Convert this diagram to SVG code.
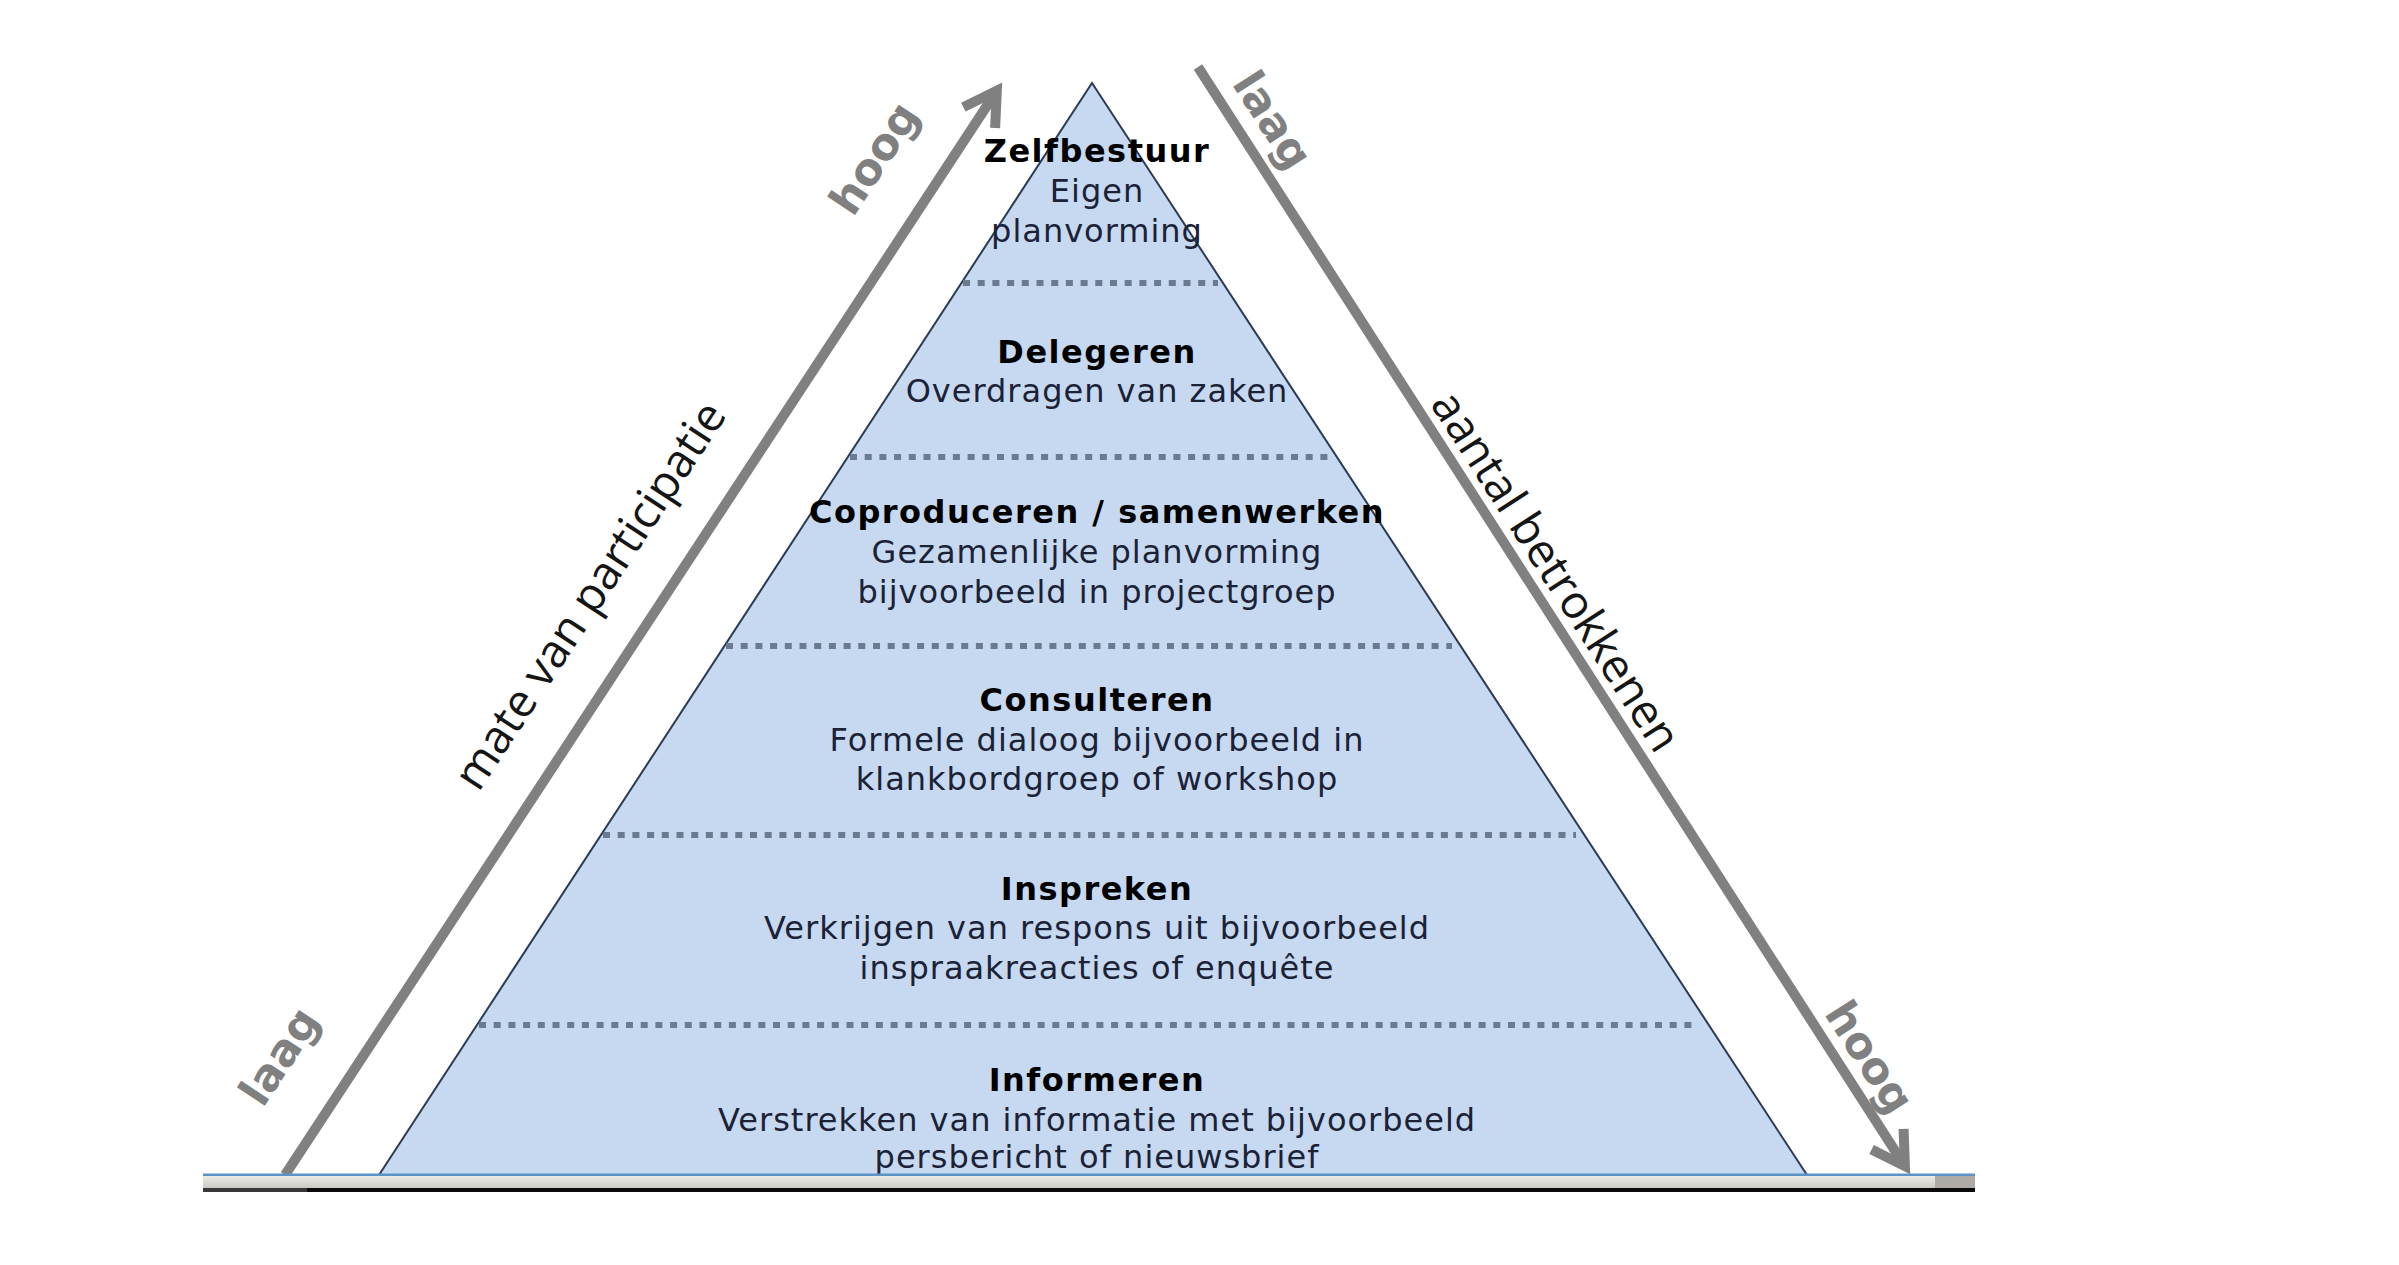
<svg xmlns="http://www.w3.org/2000/svg" width="2399" height="1265" viewBox="0 0 2399 1265">
  <style>
    .t { font-family: "DejaVu Sans", Verdana, sans-serif; font-size: 32px; fill: #1b2236; text-anchor: middle; letter-spacing: 1px; }
    .b { font-family: "DejaVu Sans", Verdana, sans-serif; font-size: 32px; font-weight: bold; fill: #000; text-anchor: middle; letter-spacing: 1.5px; }
    .lbl { font-family: "Open Sans", "DejaVu Sans", sans-serif; font-size: 46px; fill: #151515; text-anchor: middle; dominant-baseline: central; }
    .hl { font-family: "DejaVu Sans", Verdana, sans-serif; font-size: 44px; font-weight: bold; fill: #808080; text-anchor: middle; dominant-baseline: central; }
    .dot { stroke: #6c7a90; stroke-width: 6; stroke-dasharray: 7 7.7; fill: none; }
    .arrow { stroke: #808080; stroke-width: 10; fill: none; marker-end: url(#chev); }
  </style>
  <defs>
    <marker id="chev" markerUnits="userSpaceOnUse" orient="auto" refX="0" refY="0" markerWidth="80" markerHeight="80" viewBox="-50 -40 80 80" overflow="visible">
      <path d="M-32,-19 L0,0 L-32,19" fill="none" stroke="#808080" stroke-width="10" stroke-linejoin="miter" stroke-miterlimit="10"/>
    </marker>
    <linearGradient id="band" x1="0" y1="0" x2="0" y2="1">
      <stop offset="0" stop-color="#ecebe6"/>
      <stop offset="1" stop-color="#cdcac5"/>
    </linearGradient>
  </defs>
  <rect width="2399" height="1265" fill="#ffffff"/>

  <g id="pyramid">
    <polygon points="1092,83 379,1175 1807,1175" fill="#c6d9f1" stroke="#2c3b55" stroke-width="2"/>
    <line class="dot" x1="963" y1="283" x2="1218" y2="283"/>
    <line class="dot" x1="850" y1="457" x2="1330" y2="457"/>
    <line class="dot" x1="726" y1="646" x2="1452" y2="646"/>
    <line class="dot" x1="603" y1="835" x2="1576" y2="835"/>
    <line class="dot" x1="479" y1="1025" x2="1696" y2="1025"/>
  </g>

  <g id="zelfbestuur">
    <text class="b" x="1097" y="162">Zelfbestuur</text>
    <text class="t" x="1097" y="202">Eigen</text>
    <text class="t" x="1097" y="242">planvorming</text>
  </g>
  <g id="delegeren">
    <text class="b" x="1097" y="363">Delegeren</text>
    <text class="t" x="1097" y="402">Overdragen van zaken</text>
  </g>
  <g id="coproduceren">
    <text class="b" x="1097" y="523">Coproduceren / samenwerken</text>
    <text class="t" x="1097" y="563">Gezamenlijke planvorming</text>
    <text class="t" x="1097" y="603">bijvoorbeeld in projectgroep</text>
  </g>
  <g id="consulteren">
    <text class="b" x="1097" y="711">Consulteren</text>
    <text class="t" x="1097" y="751">Formele dialoog bijvoorbeeld in</text>
    <text class="t" x="1097" y="790">klankbordgroep of workshop</text>
  </g>
  <g id="inspreken">
    <text class="b" x="1097" y="900">Inspreken</text>
    <text class="t" x="1097" y="939">Verkrijgen van respons uit bijvoorbeeld</text>
    <text class="t" x="1097" y="979">inspraakreacties of enquête</text>
  </g>
  <g id="informeren">
    <text class="b" x="1097" y="1091">Informeren</text>
    <text class="t" x="1097" y="1131">Verstrekken van informatie met bijvoorbeeld</text>
    <text class="t" x="1097" y="1168">persbericht of nieuwsbrief</text>
  </g>

  <g id="connectors">
    <path class="arrow" d="M285,1175 L996.8,90.8"/>
    <path class="arrow" d="M1198,67 L1904.9,1166.1"/>
  </g>

  <g id="label-left">
    <text class="hl" transform="translate(874,158) rotate(-56.6)">hoog</text>
    <text class="lbl" transform="translate(588,594) rotate(-56.6)">mate van participatie</text>
    <text class="hl" transform="translate(279,1056) rotate(-56.6)">laag</text>
  </g>
  <g id="label-right">
    <text class="hl" transform="translate(1273,120) rotate(57.2)">laag</text>
    <text class="lbl" transform="translate(1558,570) rotate(57.2)">aantal betrokkenen</text>
    <text class="hl" transform="translate(1870,1057) rotate(57.2)">hoog</text>
  </g>

  <g id="baseline">
    <rect x="203" y="1176" width="1772" height="12" fill="url(#band)"/>
    <rect x="1935" y="1176" width="40" height="12" fill="#aeaba6"/>
    <rect x="203" y="1173.5" width="1772" height="2.5" fill="#5b93c7"/>
    <rect x="203" y="1188" width="1772" height="4" fill="#0a0a0a"/>
    <rect x="203" y="1188" width="104" height="4" fill="#383838"/>
  </g>
</svg>
